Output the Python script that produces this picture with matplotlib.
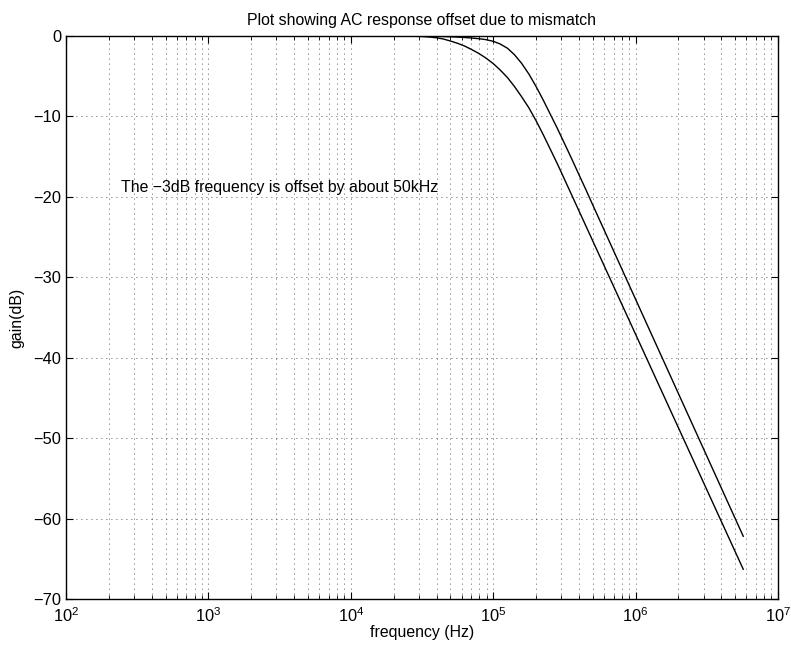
import matplotlib
matplotlib.use("Agg")
import matplotlib.pyplot as plt
from matplotlib.ticker import LogLocator, FixedLocator, NullFormatter

plt.rcParams['font.family'] = ['Liberation Sans', 'DejaVu Sans']
plt.rcParams['mathtext.fontset'] = 'custom'
plt.rcParams['mathtext.rm'] = 'Liberation Sans'
plt.rcParams['mathtext.it'] = 'Liberation Sans:italic'

# Upper curve (higher -3dB frequency)
freq_upper = [2.0e4, 3.16e4, 3.98e4, 5.01e4, 5.62e4, 6.31e4, 7.08e4, 7.94e4, 8.91e4,
              1.0e5, 1.12e5, 1.26e5, 1.41e5, 1.58e5, 1.78e5, 2.0e5, 2.24e5, 2.51e5,
              2.82e5, 3.16e5, 3.55e5, 3.98e5, 4.47e5, 5.01e5, 1.0e6, 5.7e6]
gain_upper = [0, -0.02, -0.06, -0.12, -0.16, -0.21, -0.28, -0.36, -0.48,
              -0.68, -1.02, -1.55, -2.35, -3.4, -4.75, -6.3, -7.95, -9.7,
              -11.5, -13.35, -15.25, -17.17, -19.1, -21.05, -32.75, -62.2]

# Lower curve (lower -3dB frequency)
freq_lower = [2.0e4, 2.51e4, 3.16e4, 3.55e4, 3.98e4, 4.47e4, 5.01e4, 5.62e4, 6.31e4,
              7.08e4, 7.94e4, 8.91e4, 1.0e5, 1.12e5, 1.26e5, 1.41e5, 1.58e5, 1.78e5,
              2.0e5, 2.24e5, 2.51e5, 2.82e5, 3.16e5, 3.55e5, 1.0e6, 5.7e6]
gain_lower = [0, -0.03, -0.09, -0.15, -0.24, -0.4, -0.65, -0.93, -1.28,
              -1.72, -2.2, -2.78, -3.45, -4.25, -5.2, -6.3, -7.55, -8.95,
              -10.55, -12.25, -14.05, -15.9, -17.8, -19.75, -37.1, -66.3]

yticks = [0, -10, -20, -30, -40, -50, -60, -70]

title = "Plot showing AC response offset due to mismatch"
xlabel = "frequency (Hz)"
ylabel = "gain(dB)"
note = "The \u22123dB frequency is offset by about 50kHz"

FS = 11.4

fig = plt.figure(figsize=(7.91, 6.46), dpi=100)
ax = fig.add_axes([66 / 791, 1 - 599 / 646, (778 - 66) / 791, (599 - 35.8) / 646])

ax.semilogx(freq_upper, gain_upper, color='black', lw=1.0)
ax.semilogx(freq_lower, gain_lower, color='black', lw=1.0)

ax.set_xlim(1e2, 1e7)
ax.set_ylim(-70, 0)
ax.xaxis.set_major_locator(LogLocator(base=10, numticks=10))
ax.xaxis.set_minor_locator(LogLocator(base=10, subs=range(2, 10), numticks=100))
ax.xaxis.set_minor_formatter(NullFormatter())
ax.yaxis.set_major_locator(FixedLocator(yticks))

gridkw = dict(color='#222222', linestyle=(0, (1, 5)), linewidth=0.6)
ax.grid(True, which='major', axis='both', **gridkw)
ax.grid(True, which='minor', axis='x', **gridkw)

ax.tick_params(which='both', direction='in', top=True, right=True, labelsize=11.8, color='black')
ax.tick_params(which='major', length=5, width=0.8)
ax.tick_params(which='minor', length=3, width=0.6)
ax.tick_params(axis='x', which='major', pad=5)
for s in ax.spines.values():
    s.set_linewidth(1.0)

ax.set_title(title, fontsize=FS, pad=8)
ax.set_xlabel(xlabel, fontsize=FS, labelpad=0)
ax.set_ylabel(ylabel, fontsize=FS, labelpad=6)

ax.text(243, -18.8, note, fontsize=FS, ha='left', va='center')

fig.savefig("out.png", dpi=100)
